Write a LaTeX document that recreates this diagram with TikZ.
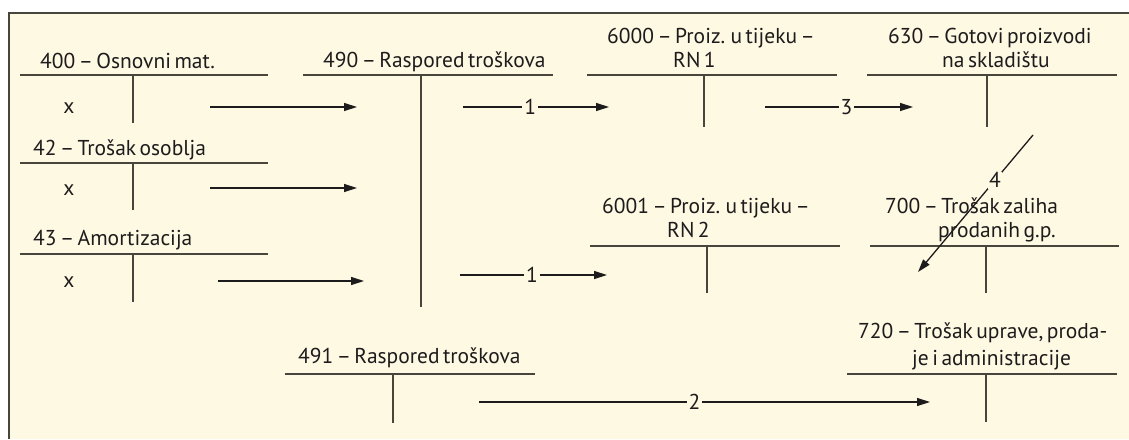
\documentclass[tikz,border=0pt]{standalone}
\usepackage{fontspec}
\setmainfont[WordSpace=0.6]{PT Sans}
\usetikzlibrary{arrows.meta}
\definecolor{cream}{HTML}{FEF9E3}
\definecolor{ink}{HTML}{1E1B1C}
\definecolor{rulec}{HTML}{48463C}
\newcommand{\ttlfont}{\fontsize{21.5}{26}\selectfont}
\begin{document}
\begin{tikzpicture}[x=1pt,y=-1pt,
  ttl/.style={font=\ttlfont, text=ink, inner sep=0pt, anchor=base west},
  xmark/.style={font=\ttlfont, text=ink, inner sep=0pt, anchor=base},
  tline/.style={draw=rulec, line width=1.8pt},
  flow/.style={draw=ink, line width=1.3pt, -{Triangle[length=13pt,width=8pt]}},
  num/.style={fill=cream, inner sep=2pt, font=\ttlfont, text=ink}
]
\useasboundingbox (0,0) rectangle (1129,439);
\fill[white] (0,0) rectangle (1129,439);
\fill[cream] (9,13) rectangle (1129,439);
\draw[rulec, line width=2pt] (9,439) -- (9,13) -- (1129,13);

% ---- 400
\node[ttl] (t400) at (40,68) {400 – Osnovni mat.};
\draw[tline] (20,75) -- (268,75);
\draw[tline] (133,75) -- (133,123);
\node[xmark] (x400) at (69,113) {x};
% ---- 42
\node[ttl] (t42) at (33,155) {42 – Trošak osoblja};
\draw[tline] (20,163) -- (268,163);
\draw[tline] (133,163) -- (133,210);
\node[xmark] (x42) at (69,195) {x};
% ---- 43
\node[ttl] (t43) at (33,245) {43 – Amortizacija};
\draw[tline] (20,254) -- (268,254);
\draw[tline] (133,254) -- (133,302);
\node[xmark] (x43) at (69,287) {x};
% ---- 490
\node[ttl] (t490) at (323,67) {490 – Raspored troškova};
\draw[tline] (303,75) -- (553,75);
\draw[tline] (421,75) -- (421,307);
% ---- 6000
\node[ttl] (t6000a) at (607,43) {6000 – Proiz. u tijeku –};
\node[ttl] (t6000b) at (673,67) {RN 1};
\draw[tline] (587,75) -- (837,75);
\draw[tline] (704,75) -- (704,127);
% ---- 630
\node[ttl] (t630a) at (888,43) {630 – Gotovi proizvodi};
\node[ttl] (t630b) at (942,67) {na skladištu};
\draw[tline] (867,75) -- (1117,75);
\draw[tline] (987,75) -- (987,127);
% ---- 6001
\node[ttl] (t6001a) at (602,213) {6001 – Proiz. u tijeku –};
\node[ttl] (t6001b) at (667,237) {RN 2};
\draw[tline] (590,246) -- (840,246);
\draw[tline] (707,246) -- (707,293);
% ---- 700
\node[ttl] (t700a) at (885,213) {700 – Trošak zaliha};
\node[ttl] (t700b) at (938,237) {prodanih g.p.};
\draw[tline] (870,246) -- (1119,246);
\draw[tline] (986,246) -- (986,293);
% ---- 491
\node[ttl] (t491) at (298,363) {491 – Raspored troškova};
\draw[tline] (285,374) -- (535,374);
\draw[tline] (393,374) -- (393,423);
% ---- 720
\node[ttl] (t720a) at (858,338) {720 – Trošak uprave, proda-};
\node[ttl] (t720b) at (912,365) {je i administracije};
\draw[tline] (847,374) -- (1117,374);
\draw[tline] (986,374) -- (986,422);

% ---- arrow end points
\coordinate (a1s) at (210,107); \coordinate (a1e) at (357,107);
\coordinate (a2s) at (210,188); \coordinate (a2e) at (357,188);
\coordinate (a3s) at (218,281); \coordinate (a3e) at (364,281);
\coordinate (b1s) at (463,107); \coordinate (b1e) at (609,107);
\coordinate (b2s) at (460,275); \coordinate (b2e) at (607,275);
\coordinate (c3s) at (765,107); \coordinate (c3e) at (913,107);
\coordinate (d2s) at (479,402); \coordinate (d2e) at (930,402);
\coordinate (e4s) at (1033,135); \coordinate (e4e) at (918,272);

\draw[flow] (a1s) -- (a1e);
\draw[flow] (a2s) -- (a2e);
\draw[flow] (a3s) -- (a3e);
\draw[flow] (b1s) -- node[num, pos=0.46] (n1a) {1} (b1e);
\draw[flow] (b2s) -- node[num, pos=0.49] (n1b) {1} (b2e);
\draw[flow] (c3s) -- node[num, pos=0.55] (n3) {3} (c3e);
\draw[flow] (d2s) -- node[num, pos=0.478] (n2) {2} (d2e);
\draw[flow] (e4s) -- node[num, pos=0.33, inner sep=1pt] (n4) {4} (e4e);
\end{tikzpicture}
\end{document}
